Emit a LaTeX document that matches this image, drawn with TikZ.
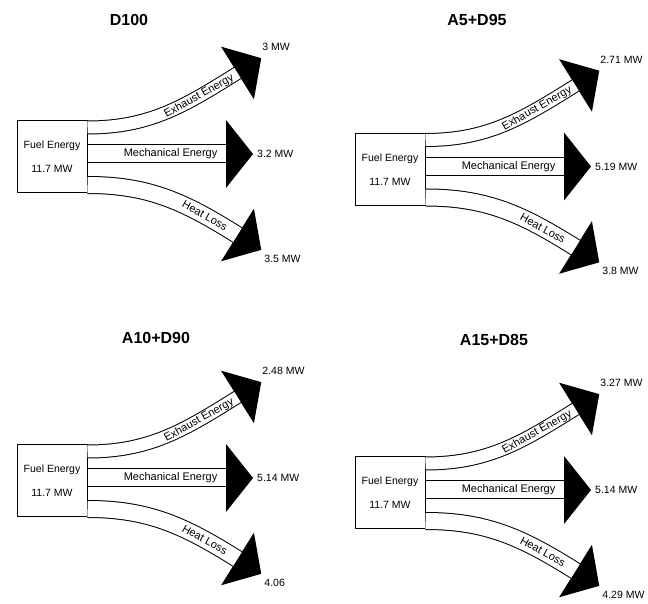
\documentclass[tikz,border=0pt]{standalone}
\usepackage{fontspec}
\setmainfont{Liberation Sans}
\usetikzlibrary{shapes.geometric}

\tikzset{
  fuelbox/.style={draw,line width=1pt,minimum width=70pt,minimum height=72pt,align=center,font=\fontsize{10.5}{24}\selectfont},
  band/.style={draw,line width=1pt,double=white},
  headtri/.style={isosceles triangle,isosceles triangle stretches,fill=black,inner sep=0pt,outer sep=0pt,anchor=lower side},
  lbl/.style={font=\fontsize{11}{11}\selectfont,inner sep=0pt},
  val/.style={font=\fontsize{10.5}{11}\selectfont,inner sep=0pt,anchor=west},
  ttl/.style={font=\bfseries\fontsize{16}{16}\selectfont}
}

\begin{document}
\begin{tikzpicture}[x=1pt,y=1pt]
  \useasboundingbox (0,0) rectangle (648,604);
  % one panel per blend: shift, title position, title, outputs
  \foreach \dx/\dy/\tx/\ty/\blend/\vE/\vM/\vH in {
      0/0/129/584/D100/3 MW/3.2 MW/3.5 MW,
      338/-12.5/477/584/A5+D95/2.71 MW/5.19 MW/3.8 MW,
      0/-324/156/266/A10+D90/2.48 MW/5.14 MW/4.06,
      338/-336/494/264/A15+D85/3.27 MW/5.14 MW/4.29 MW}{
    \node[ttl] (title) at (\tx,\ty) {\blend};
    \begin{scope}[shift={(\dx,\dy)}]
      \node[fuelbox] (fuel) at (52,447) {Fuel Energy\\11.7 MW};
      \node[headtri,minimum width=62pt,minimum height=28pt,rotate=32] (exh) at (237.5,531) {};
      \node[headtri,minimum width=68pt,minimum height=27pt] (mech) at (226,450) {};
      \node[headtri,minimum width=62pt,minimum height=28pt,rotate=-32] (heat) at (237.5,369) {};
      \draw[band,double distance=12pt] ([yshift=-7pt]fuel.north east) to[out=0,in=212]
        node[lbl,sloped,pos=.74] {Exhaust Energy} (exh.lower side);
      \draw[band,double distance=17pt] ([yshift=3pt]fuel.east) --
        node[lbl,pos=.6] {Mechanical Energy} (mech.lower side);
      \draw[band,double distance=16pt] ([yshift=8.5pt]fuel.south east) to[out=0,in=148]
        node[lbl,sloped,pos=.78] {Heat Loss} (heat.lower side);
      \node[val,xshift=1pt,yshift=11pt] (vE) at (exh.apex) {\vE};
      \node[val,xshift=4pt] (vM) at (mech.apex) {\vM};
      \node[val,xshift=3pt,yshift=-9pt] (vH) at (heat.apex) {\vH};
    \end{scope}
  }
\end{tikzpicture}
\end{document}
